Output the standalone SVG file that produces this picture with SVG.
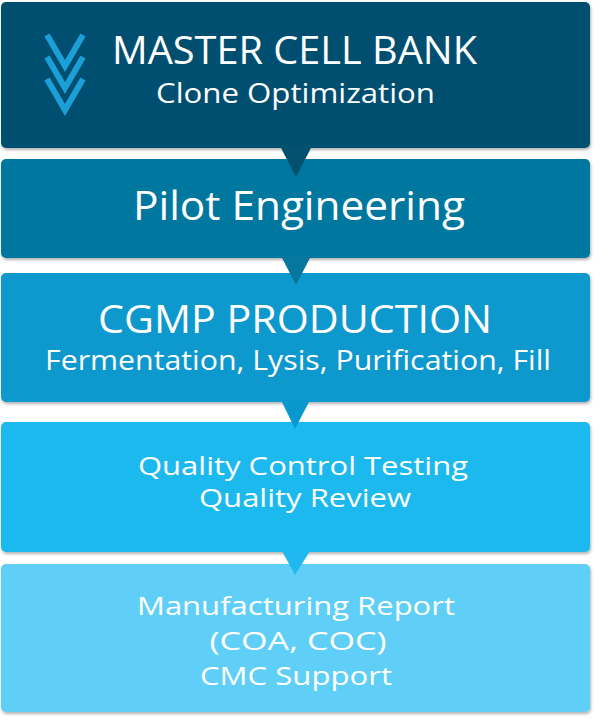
<svg xmlns="http://www.w3.org/2000/svg" width="600" height="723" viewBox="0 0 600 723">
<defs>
<filter id="sh" x="-5%" y="-5%" width="110%" height="120%">
<feDropShadow dx="1" dy="2" stdDeviation="1.5" flood-color="#000" flood-opacity="0.3"/>
</filter>
<style>
.t{font-family:"Open Sans","Liberation Sans",sans-serif;fill:#fff;text-anchor:middle;font-weight:400}
.chev{fill:none;stroke:#1c9ed7;stroke-width:6}
</style>
</defs>
<rect width="600" height="723" fill="#fff"/>
<g id="node-master" filter="url(#sh)">
<rect x="1" y="2" width="589" height="146" rx="5" fill="#03506f"/>
</g>
<g id="node-pilot" filter="url(#sh)">
<rect x="1" y="159" width="589" height="99" rx="5" fill="#06779f"/>
</g>
<g id="node-cgmp" filter="url(#sh)">
<rect x="1" y="273" width="589" height="129" rx="5" fill="#0998ce"/>
</g>
<g id="node-qc" filter="url(#sh)">
<rect x="1" y="422" width="589" height="130" rx="5" fill="#1fb9ef"/>
</g>
<g id="node-report" filter="url(#sh)">
<rect x="1" y="564" width="589" height="148" rx="5" fill="#5fcff7"/>
</g>
<g id="connectors">
<polygon points="280,146 312,146 296,177" fill="#03506f"/>
<polygon points="281,256 311,256 296,285" fill="#06779f"/>
<polygon points="281,400 310,400 295,429" fill="#0998ce"/>
<polygon points="282,551 310,551 295,575" fill="#1fb9ef"/>
</g>
<g id="icon">
<polyline class="chev" points="47,35 65,66 83,35"/>
<polyline class="chev" points="47,57 65,88 83,57"/>
<polyline class="chev" points="47,79 65,110 83,79"/>
</g>
<g id="labels">
<text class="t" x="294.5" y="64" font-size="39" textLength="365" lengthAdjust="spacingAndGlyphs">MASTER CELL BANK</text>
<text class="t" x="295.5" y="103" font-size="28" textLength="279" lengthAdjust="spacingAndGlyphs">Clone Optimization</text>
<text class="t" x="299" y="220" font-size="40" textLength="332" lengthAdjust="spacingAndGlyphs">Pilot Engineering</text>
<text class="t" x="295" y="333" font-size="39" textLength="394" lengthAdjust="spacingAndGlyphs">CGMP PRODUCTION</text>
<text class="t" x="298" y="370" font-size="28" textLength="506" lengthAdjust="spacingAndGlyphs">Fermentation, Lysis, Purification, Fill</text>
<text class="t" x="303" y="475" font-size="25" textLength="330" lengthAdjust="spacingAndGlyphs">Quality Control Testing</text>
<text class="t" x="305" y="507" font-size="25" textLength="212" lengthAdjust="spacingAndGlyphs">Quality Review</text>
<text class="t" x="296" y="615" font-size="26" textLength="318" lengthAdjust="spacingAndGlyphs">Manufacturing Report</text>
<text class="t" x="298" y="650" font-size="26" textLength="177" lengthAdjust="spacingAndGlyphs">(COA, COC)</text>
<text class="t" x="296" y="685" font-size="26" textLength="192" lengthAdjust="spacingAndGlyphs">CMC Support</text>
</g>
</svg>
